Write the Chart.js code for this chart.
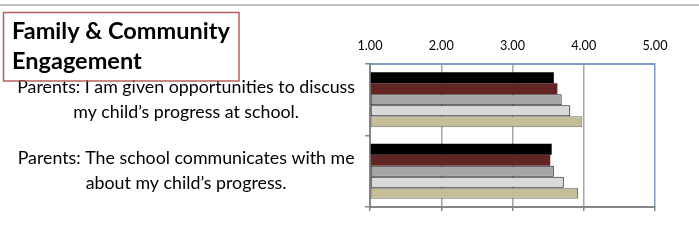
<!DOCTYPE html>
<html>
<head>
<meta charset="utf-8">
<script src="https://cdn.jsdelivr.net/npm/chart.js@4"></script>
<style>
  html, body { margin: 0; padding: 0; background: #ffffff; }
  #wrap { width: 699px; height: 242px; position: relative; }
</style>
</head>
<body>
<div id="wrap"><canvas id="c" width="699" height="242"></canvas></div>
<script>
// ---- data ----
const titleLines = ['Family & Community', 'Engagement'];
const categories = [
  ['Parents: I am given opportunities to discuss', 'my child\u2019s progress at school.'],
  ['Parents: The school communicates with me', 'about my child\u2019s progress.']
];
const seriesNames = ['Series 1', 'Series 2', 'Series 3', 'Series 4', 'Series 5'];
const series1 = [3.58, 3.55];
const series2 = [3.63, 3.53];
const series3 = [3.69, 3.58];
const series4 = [3.81, 3.72];
const series5 = [3.98, 3.92];
const tickValues = [1, 2, 3, 4, 5];
const tickLabels = ['1.00', '2.00', '3.00', '4.00', '5.00'];

// ---- styles ----
const FAMILY = 'Lato, "Open Sans", sans-serif';
const fills = ['#000000', '#632523', '#a6a6a6', '#d9d9d9', '#c4bd97'];
const borders = ['#000000', '#632523', '#1a1a1a', '#1a1a1a', '#6f6f6f'];
const borderW = [0, 0, 1, 1, 1];
const AXIS_GRAY = '#868686';
const GRID_GRAY = '#a6a6a6';
const BLUE = '#7b9cc7';

// size fonts to match reference text widths
const mctx = document.createElement('canvas').getContext('2d');
function fit(text, weight, target) {
  mctx.font = weight + ' 100px ' + FAMILY;
  return 100 * target / mctx.measureText(text).width;
}
const labelSize = fit(categories[0][0], 'normal', 338);
const titleSize = fit(titleLines[0], 'bold', 218);
const tickSize = fit('1.00', 'normal', 25);

const seriesData = [series1, series2, series3, series4, series5];
const datasets = seriesData.map((d, i) => ({
  label: seriesNames[i],
  data: d,
  base: 1,
  backgroundColor: fills[i],
  borderColor: borders[i],
  borderWidth: borderW[i],
  borderSkipped: false,
  categoryPercentage: 0.77,
  barPercentage: 1.0
}));

const decor = {
  id: 'decor',
  afterDraw(chart) {
    const ctx = chart.ctx;
    ctx.save();
    // top separator line
    ctx.strokeStyle = '#c0c0c0';
    ctx.lineWidth = 2;
    ctx.beginPath();
    ctx.moveTo(0, 5); ctx.lineTo(chart.width, 5);
    ctx.stroke();
    // title box
    ctx.strokeStyle = '#b5605e';
    ctx.lineWidth = 1.5;
    ctx.strokeRect(3.5, 12.5, 235.5, 68.5);
    ctx.fillStyle = '#000000';
    ctx.font = 'bold ' + titleSize.toFixed(2) + 'px ' + FAMILY;
    ctx.textAlign = 'left';
    ctx.textBaseline = 'alphabetic';
    ctx.fillText(titleLines[0], 12, 39);
    ctx.fillText(titleLines[1], 12, 69);
    ctx.restore();
  }
};

new Chart(document.getElementById('c'), {
  type: 'bar',
  data: { labels: categories, datasets: datasets },
  options: {
    indexAxis: 'y',
    responsive: false,
    animation: false,
    layout: { padding: { left: 0, right: 44, top: 0, bottom: 0 } },
    plugins: { legend: { display: false }, tooltip: { enabled: false }, title: { display: false } },
    scales: {
      x: {
        type: 'linear',
        position: 'top',
        min: 1, max: 5,
        afterBuildTicks: (s) => { s.ticks = tickValues.map(v => ({ value: v })); },
        afterFit: (s) => { s.height = 64; },
        ticks: {
          color: '#000000',
          padding: 10,
          font: { family: FAMILY, size: tickSize },
          callback: (v) => tickLabels[tickValues.indexOf(v)]
        },
        grid: {
          drawTicks: false,
          lineWidth: 1.5,
          color: (c) => (c.tick && c.tick.value === 5) ? BLUE : (c.tick && c.tick.value === 1 ? AXIS_GRAY : GRID_GRAY)
        },
        border: { display: true, color: BLUE, width: 2 }
      },
      x2: {
        type: 'linear',
        position: 'bottom',
        min: 1, max: 5,
        afterBuildTicks: (s) => { s.ticks = tickValues.map(v => ({ value: v })); },
        afterFit: (s) => { s.height = 13; },
        ticks: { display: false },
        grid: { drawOnChartArea: false, drawTicks: true, tickLength: 4, color: AXIS_GRAY, lineWidth: 1.5 },
        border: { display: true, color: AXIS_GRAY, width: 2 }
      },
      y: {
        type: 'category',
        position: 'left',
        afterFit: (s) => { s.width = 370; },
        ticks: {
          color: '#000000',
          crossAlign: 'center',
          padding: 10,
          font: { family: FAMILY, size: labelSize, lineHeight: 25 / labelSize }
        },
        grid: { drawOnChartArea: false, drawTicks: true, tickLength: 5, color: AXIS_GRAY, lineWidth: 1.5, offset: true },
        border: { display: true, color: AXIS_GRAY, width: 2 }
      }
    }
  },
  plugins: [decor]
});
</script>
</body>
</html>
